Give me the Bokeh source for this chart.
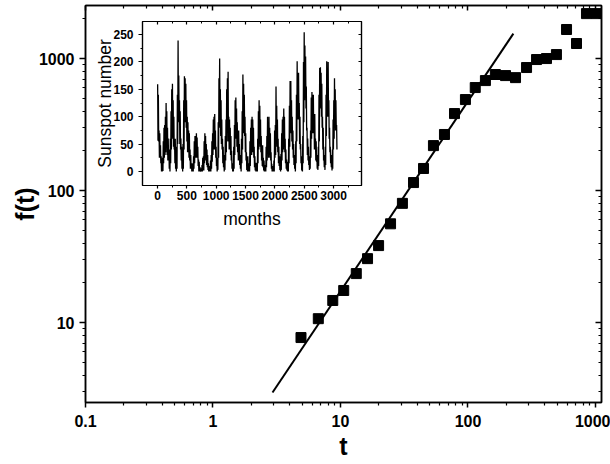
from bokeh.plotting import figure
from bokeh.models import Range1d, FixedTicker, LogAxis, LinearAxis
from bokeh.layouts import column
from bokeh.embed import file_html
from bokeh.resources import INLINE

FONT = "Liberation Sans"

# ---------------- main log-log data ----------------
t_vals = [4.9, 6.7, 8.7, 10.6, 13.3, 16.3, 19.9, 24.7, 30.6, 37.4, 44.8, 53.6, 65.4, 78.4,
          95.5, 114, 137, 164, 197, 236, 288, 345, 413, 494, 593, 710, 850, 1018]
f_vals = [7.7, 10.7, 14.7, 17.5, 23.5, 30.5, 38.3, 56, 80, 115, 147, 219, 266, 383,
          489, 603, 681, 757, 743, 717, 855, 983, 1000, 1072, 1660, 1300, 2190, 2190]
fit_t = [2.93, 227]
fit_f = [2.95, 1546]

x_ticks = [0.1, 1, 10, 100, 1000]
x_tick_labels = ["0.1", "1", "10", "100", "1000"]
x_minor = [0.2, 0.3, 0.4, 0.5, 0.6, 0.7, 0.8, 0.9, 2, 3, 4, 5, 6, 7, 8, 9,
           20, 30, 40, 50, 60, 70, 80, 90, 200, 300, 400, 500, 600, 700, 800, 900]
y_ticks = [10, 100, 1000]
y_tick_labels = ["10", "100", "1000"]
y_minor = [3, 4, 5, 6, 7, 8, 9, 20, 30, 40, 50, 60, 70, 80, 90,
           200, 300, 400, 500, 600, 700, 800, 900, 2000]

# ---------------- inset: monthly sunspot number (per-year monthly max / min) ----------------
years = list(range(1749, 2004))
ssn_max = [159, 140, 75, 70, 48, 28, 22, 25, 55, 80, 85, 100, 125, 110, 80, 60, 40, 25, 60, 110,
           150, 160, 130, 100, 60, 60, 20, 45, 140, 239, 175, 130, 110, 60, 45, 25, 50, 130, 174, 170,
           160, 130, 100, 90, 75, 70, 40, 30, 15, 12, 15, 28, 55, 65, 65, 70, 62, 45, 22, 18,
           8, 2, 6, 12, 25, 28, 55, 70, 65, 50, 40, 30, 15, 10, 6, 20, 30, 55, 70, 95,
           100, 105, 75, 45, 18, 25, 90, 170, 206, 150, 130, 95, 60, 45, 22, 30, 65, 95, 150, 170,
           182, 100, 95, 80, 65, 38, 15, 12, 45, 85, 130, 135, 115, 90, 70, 75, 50, 30, 18, 60,
           110, 177, 160, 140, 100, 70, 35, 25, 28, 10, 15, 55, 80, 95, 100, 95, 80, 45, 28, 16,
           15, 16, 60, 110, 130, 120, 95, 65, 45, 48, 25, 20, 8, 12, 45, 65, 100, 85, 100, 80,
           70, 35, 14, 10, 5, 20, 75, 85, 155, 120, 95, 60, 45, 28, 14, 32, 70, 95, 100, 115,
           100, 60, 40, 22, 14, 18, 60, 120, 165, 165, 130, 100, 75, 50, 30, 20, 55, 140, 201, 180,
           180, 125, 100, 50, 28, 12, 65, 200, 254, 230, 210, 155, 80, 60, 45, 20, 28, 75, 135, 145,
           140, 140, 100, 105, 60, 55, 30, 25, 45, 140, 189, 190, 180, 160, 100, 80, 30, 28, 45, 140,
           201, 180, 200, 130, 80, 45, 30, 18, 40, 95, 130, 170, 150, 130, 85]
ssn_min = [56, 55, 25, 30, 15, 0, 0, 1, 15, 25, 30, 35, 55, 30, 20, 20, 5, 0, 15, 40,
           70, 60, 45, 40, 15, 5, 0, 5, 50, 100, 90, 50, 40, 20, 5, 0, 5, 40, 95, 90,
           80, 55, 35, 35, 25, 20, 5, 5, 0, 0, 0, 5, 15, 25, 25, 25, 25, 10, 0, 0,
           0, 0, 0, 0, 2, 2, 15, 25, 20, 12, 8, 3, 0, 0, 0, 0, 5, 18, 30, 40,
           40, 45, 25, 10, 0, 3, 25, 80, 95, 65, 50, 40, 15, 8, 0, 3, 20, 35, 55, 85,
           55, 40, 40, 30, 20, 5, 0, 0, 5, 30, 60, 60, 45, 35, 20, 25, 12, 5, 0, 15,
           40, 100, 70, 65, 35, 20, 3, 0, 0, 0, 0, 10, 30, 30, 35, 35, 25, 8, 2, 0,
           0, 0, 15, 40, 50, 45, 35, 20, 10, 8, 2, 0, 0, 0, 8, 20, 35, 25, 30, 25,
           20, 5, 0, 0, 0, 0, 25, 30, 65, 45, 35, 15, 10, 3, 0, 3, 20, 35, 40, 45,
           35, 15, 5, 2, 0, 0, 15, 45, 75, 70, 55, 40, 25, 12, 5, 0, 15, 55, 110, 95,
           95, 50, 40, 15, 2, 0, 15, 90, 130, 135, 115, 75, 30, 20, 12, 3, 5, 25, 60, 70,
           70, 70, 40, 40, 20, 18, 5, 3, 10, 55, 115, 120, 100, 80, 40, 20, 8, 3, 12, 65,
           115, 100, 105, 60, 35, 15, 8, 2, 5, 40, 60, 90, 75, 80, 40]

inset_x_ticks = [0, 500, 1000, 1500, 2000, 2500, 3000]
inset_x_minor = [250, 750, 1250, 1750, 2250, 2750, 3250]
inset_y_ticks = [0, 50, 100, 150, 200, 250]
inset_y_minor = [25, 75, 125, 175, 225]

# monthly positions (month index since Jan 1749): max near spring, min near autumn of each year
months = []
ssn = []
for yr, hi, lo in zip(years, ssn_max, ssn_min):
    base = 12 * (yr - years[0])
    months += [base + 3, base + 9]
    ssn += [hi, lo]


def style_main_axis(ax, labels_visible=True):
    ax.axis_line_width = 1.5
    ax.axis_line_color = "black"
    ax.major_tick_line_width = 1.5
    ax.minor_tick_line_width = 1.2
    ax.major_tick_line_color = "black"
    ax.minor_tick_line_color = "black"
    ax.major_label_text_font = FONT
    ax.major_label_text_font_style = "bold"
    ax.major_label_text_font_size = "16px" if labels_visible else "1px"
    ax.major_label_text_color = "black"
    if not labels_visible:
        ax.major_label_text_alpha = 0
    ax.axis_label_text_font = FONT
    ax.axis_label_text_font_style = "bold"
    ax.axis_label_text_font_size = "25px"
    ax.axis_label_text_color = "black"


# both figures share the same side borders (the column lines up their frames)
BORDER_L = 85
BORDER_R = 9

# ---------------- main figure ----------------
p = figure(width=610, height=464, x_axis_type="log", y_axis_type="log",
           x_range=Range1d(0.1, 1115), y_range=Range1d(2.48, 2523),
           output_backend="svg", toolbar_location=None,
           min_border_left=BORDER_L, min_border_right=BORDER_R, min_border_top=5, min_border_bottom=62,
           background_fill_color="white", border_fill_color="white",
           outline_line_color="black", outline_line_width=1.5)
p.xgrid.visible = False
p.ygrid.visible = False

xa = p.xaxis[0]
xa.ticker = FixedTicker(ticks=x_ticks, minor_ticks=x_minor)
xa.major_label_overrides = dict(zip(x_ticks, x_tick_labels))
style_main_axis(xa)
xa.major_tick_out = 5
xa.major_tick_in = 0
xa.minor_tick_out = 3
xa.minor_tick_in = 0
xa.major_label_standoff = 7
xa.axis_label = "t"
xa.axis_label_standoff = 2

ya = p.yaxis[0]
ya.ticker = FixedTicker(ticks=y_ticks, minor_ticks=y_minor)
ya.major_label_overrides = dict(zip(y_ticks, y_tick_labels))
style_main_axis(ya)
ya.major_tick_out = 6
ya.major_tick_in = 0
ya.minor_tick_out = 3
ya.minor_tick_in = 0
ya.major_label_standoff = 5
ya.axis_label = "f(t)"
ya.axis_label_standoff = -3

top = LogAxis(ticker=FixedTicker(ticks=x_ticks, minor_ticks=x_minor))
top.major_label_overrides = dict(zip(x_ticks, x_tick_labels))
style_main_axis(top, labels_visible=False)
top.major_tick_in = 5
top.major_tick_out = 0
top.minor_tick_in = 3
top.minor_tick_out = 0
top.major_label_standoff = 0
p.add_layout(top, "above")

right = LogAxis(ticker=FixedTicker(ticks=y_ticks, minor_ticks=y_minor))
right.major_label_overrides = dict(zip(y_ticks, y_tick_labels))
style_main_axis(right, labels_visible=False)
right.major_tick_in = 6
right.major_tick_out = 0
right.minor_tick_in = 3
right.minor_tick_out = 0
right.major_label_standoff = 0
p.add_layout(right, "right")

p.line(fit_t, fit_f, line_color="black", line_width=2)
p.scatter(t_vals, f_vals, marker="square", size=10, fill_color="black", line_color="black")

# ---------------- inset figure ----------------
pin = figure(frame_width=219, frame_height=164,
             x_range=Range1d(-255, 3475), y_range=Range1d(-25.5, 273.7),
             output_backend="svg", toolbar_location=None,
             min_border_left=BORDER_L, min_border_right=BORDER_R, min_border_top=10, min_border_bottom=60,
             background_fill_alpha=0, border_fill_alpha=0,
             outline_line_color="black", outline_line_width=1.2)
pin.xgrid.visible = False
pin.ygrid.visible = False


def style_inset_axis(ax, labels_visible=True):
    ax.axis_line_width = 1.2
    ax.axis_line_color = "black"
    ax.major_tick_line_width = 1.2
    ax.minor_tick_line_width = 1
    ax.major_tick_line_color = "black"
    ax.minor_tick_line_color = "black"
    ax.major_label_text_font = FONT
    ax.major_label_text_font_style = "bold"
    ax.major_label_text_font_size = "12px" if labels_visible else "1px"
    ax.major_label_text_color = "black"
    if not labels_visible:
        ax.major_label_text_alpha = 0
    ax.axis_label_text_font = FONT
    ax.axis_label_text_font_style = "normal"
    ax.axis_label_text_font_size = "17.5px"
    ax.axis_label_text_color = "black"


ixa = pin.xaxis[0]
ixa.ticker = FixedTicker(ticks=inset_x_ticks, minor_ticks=inset_x_minor)
style_inset_axis(ixa)
ixa.major_tick_out = 3
ixa.major_tick_in = 0
ixa.minor_tick_out = 2
ixa.minor_tick_in = 0
ixa.major_label_standoff = 2
ixa.axis_label = "months"
ixa.axis_label_standoff = 6

iya = pin.yaxis[0]
iya.ticker = FixedTicker(ticks=inset_y_ticks, minor_ticks=inset_y_minor)
style_inset_axis(iya)
iya.major_tick_out = 4
iya.major_tick_in = 0
iya.minor_tick_out = 2
iya.minor_tick_in = 0
iya.major_label_standoff = 5
iya.axis_label = "Sunspot number"
iya.axis_label_standoff = -5

itop = LinearAxis(ticker=FixedTicker(ticks=inset_x_ticks, minor_ticks=inset_x_minor))
style_inset_axis(itop, labels_visible=False)
itop.major_tick_in = 3
itop.major_tick_out = 0
itop.minor_tick_in = 2
itop.minor_tick_out = 0
itop.major_label_standoff = 0
pin.add_layout(itop, "above")

iright = LinearAxis(ticker=FixedTicker(ticks=inset_y_ticks, minor_ticks=inset_y_minor))
style_inset_axis(iright, labels_visible=False)
iright.major_tick_in = 3
iright.major_tick_out = 0
iright.minor_tick_in = 2
iright.minor_tick_out = 0
iright.major_label_standoff = 0
pin.add_layout(iright, "right")

pin.line(months, ssn, line_color="black", line_width=1.3)

# inset frame lands at x=142..361, y=21..185 of the page
pin.styles = {"position": "absolute", "left": "57px", "top": "11px"}

root = column(p, pin)
root.styles = {"position": "relative"}

open("out.html", "w").write(file_html(root, INLINE))
